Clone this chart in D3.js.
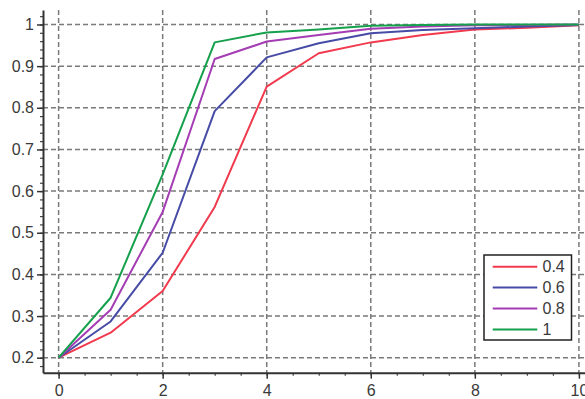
<!DOCTYPE html>
<html>
<head>
<meta charset="utf-8">
<script src="https://cdn.jsdelivr.net/npm/d3@7"></script>
<style>
  body { margin: 0; background: #fff; }
  svg { display: block; font-family: "Liberation Sans", Arial, sans-serif; }
</style>
</head>
<body>
<svg id="chart" width="585" height="399"></svg>
<script>
// data
const xValues = [0, 1, 2, 3, 4, 5, 6, 7, 8, 9, 10];
const series04 = [0.2, 0.26, 0.36, 0.562, 0.851, 0.931, 0.957, 0.975, 0.988, 0.992, 0.998];
const series06 = [0.2, 0.287, 0.452, 0.792, 0.921, 0.955, 0.979, 0.987, 0.991, 0.995, 0.999];
const series08 = [0.2, 0.315, 0.55, 0.917, 0.959, 0.975, 0.99, 0.995, 0.998, 0.999, 1];
const series10 = [0.2, 0.344, 0.64, 0.957, 0.981, 0.988, 0.997, 0.999, 1, 1, 1];
const seriesNames = ["0.4", "0.6", "0.8", "1"];
const seriesColors = ["#f23a4e", "#464ba6", "#a43db3", "#15a04c"];
const xTicks = [0, 2, 4, 6, 8, 10];
const yTicks = [0.2, 0.3, 0.4, 0.5, 0.6, 0.7, 0.8, 0.9, 1];

const allSeries = [series04, series06, series08, series10];

const svg = d3.select("#chart");

const x = d3.scaleLinear().domain([-0.3, 10.3]).range([43, 594.5]);
const y = d3.scaleLinear().domain([0.164, 1.035]).range([372.7, 9.9]);

// grid
const grid = svg.append("g");
grid.selectAll("line.v")
  .data(xTicks)
  .join("line")
  .attr("x1", d => x(d)).attr("x2", d => x(d))
  .attr("y1", y.range()[1]).attr("y2", y.range()[0])
  .attr("stroke", "#7a7a7a").attr("stroke-width", 1.5)
  .attr("stroke-dasharray", "5,3");
grid.selectAll("line.h")
  .data(yTicks)
  .join("line")
  .attr("x1", x.range()[0]).attr("x2", x.range()[1])
  .attr("y1", d => y(d)).attr("y2", d => y(d))
  .attr("stroke", "#7a7a7a").attr("stroke-width", 1.5)
  .attr("stroke-dasharray", "5,3");

// lines
const line = d3.line()
  .x((_, i) => x(xValues[i]))
  .y(d => y(d));

svg.append("g")
  .selectAll("path")
  .data(allSeries)
  .join("path")
  .attr("d", line)
  .attr("fill", "none")
  .attr("stroke", (_, i) => seriesColors[i])
  .attr("stroke-width", 2)
  .attr("stroke-linejoin", "round");

// axes
const xMinor = d3.range(-0, 10.3, 0.5);
const yMinor = d3.range(0.18, 1.035, 0.02);

svg.append("g")
  .attr("transform", `translate(0,${y.range()[0]})`)
  .call(d3.axisBottom(x).tickValues(xMinor).tickSize(3).tickFormat(""))
  .call(g => g.select(".domain").remove())
  .selectAll("line").attr("stroke", "#444").attr("stroke-width", 1.2);

svg.append("g")
  .attr("transform", `translate(${x.range()[0]},0)`)
  .call(d3.axisLeft(y).tickValues(yMinor).tickSize(3).tickFormat(""))
  .call(g => g.select(".domain").remove())
  .selectAll("line").attr("stroke", "#444").attr("stroke-width", 1.2);

const xAxis = svg.append("g")
  .attr("transform", `translate(0,${y.range()[0]})`)
  .call(d3.axisBottom(x).tickValues(xTicks).tickSize(6).tickSizeOuter(0).tickPadding(6).tickFormat(d3.format("d")));

const yAxis = svg.append("g")
  .attr("transform", `translate(${x.range()[0]},0)`)
  .call(d3.axisLeft(y).tickValues(yTicks).tickSize(6).tickSizeOuter(0).tickPadding(3).tickFormat(d => String(+d.toFixed(1))));

[xAxis, yAxis].forEach(g => {
  g.select(".domain").attr("stroke", "#333").attr("stroke-width", 2);
  g.selectAll(".tick line").attr("stroke", "#333").attr("stroke-width", 1.5);
  g.selectAll(".tick text")
    .attr("fill", "#3a3a3a")
    .style("font-size", "16px")
    .style("font-family", "'Liberation Sans', Arial, sans-serif");
});

// legend
const legend = svg.append("g").attr("transform", "translate(484,255)");
legend.append("rect")
  .attr("width", 87.5).attr("height", 85)
  .attr("fill", "#fff").attr("stroke", "#222").attr("stroke-width", 1.5);

const rows = legend.selectAll("g.row")
  .data(seriesNames)
  .join("g")
  .attr("transform", (_, i) => `translate(0,${11.7 + i * 20.9})`);
rows.append("line")
  .attr("x1", 8.7).attr("x2", 53.3)
  .attr("stroke", (_, i) => seriesColors[i])
  .attr("stroke-width", 2);
rows.append("text")
  .attr("x", 58.5).attr("dy", "0.35em")
  .attr("fill", "#3a3a3a")
  .style("font-size", "16px")
  .text(d => d);
</script>
</body>
</html>
